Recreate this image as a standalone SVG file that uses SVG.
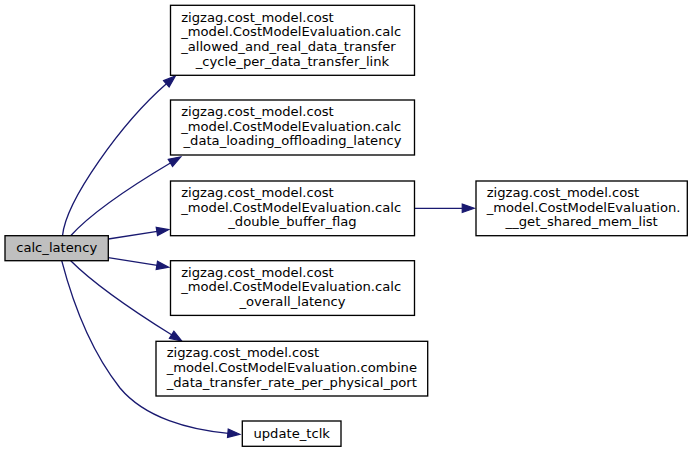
<svg xmlns="http://www.w3.org/2000/svg" width="697" height="453" viewBox="0 0 697 453">
<style>
.box{fill:#ffffff;stroke:#000000;stroke-width:1.33}
.root{fill:#bfbfbf;stroke:#000000;stroke-width:1.33}
text{font-family:"DejaVu Sans","Liberation Sans",sans-serif;font-size:13.15px;fill:#000000}
.c{text-anchor:middle}
.edge{fill:none;stroke:#191970;stroke-width:1.33}
</style>
<defs>
<marker id="arr" markerUnits="userSpaceOnUse" markerWidth="16" markerHeight="12" refX="0.5" refY="5.67" orient="auto" viewBox="-1 -1 16 13.33">
<path d="M0,1 L13.33,5.67 L0,10.33 z" fill="#191970" stroke="#191970" stroke-width="1.33"/>
</marker>
</defs>
<rect width="697" height="453" fill="#ffffff"/>
<g id="edges">
<path class="edge" marker-end="url(#arr)" d="M62.5,235.7 C66,200 122,122.5 166.7,83.5"/>
<path class="edge" marker-end="url(#arr)" d="M70.7,235.7 C92,212 130.8,186.4 170.8,162.7"/>
<path class="edge" marker-end="url(#arr)" d="M108.3,239 L157.3,231.4"/>
<path class="edge" marker-end="url(#arr)" d="M108.3,257.7 L157.3,265.4"/>
<path class="edge" marker-end="url(#arr)" d="M70.7,260.7 C95,285 135,312 172,335"/>
<path class="edge" marker-end="url(#arr)" d="M61.7,260.7 C72,300 90,350 120,388 C145,418 190,430 228.3,433.3"/>
<path class="edge" marker-end="url(#arr)" d="M414.5,208.3 L462.7,208.3"/>
</g>
<g id="calc_latency">
<rect class="root" x="5" y="235.7" width="103.3" height="25"/>
<text class="c" x="56.7" y="252">calc_latency</text>
</g>
<g id="n_allowed">
<rect class="box" x="170.5" y="5.3" width="244" height="70"/>
<text x="181.2" y="21.5">zigzag.cost_model.cost</text>
<text x="181.2" y="36.2">_model.CostModelEvaluation.calc</text>
<text x="181.2" y="50.8">_allowed_and_real_data_transfer</text>
<text class="c" x="292.5" y="65.5">_cycle_per_data_transfer_link</text>
</g>
<g id="n_loading">
<rect class="box" x="170.5" y="100" width="244" height="55"/>
<text x="181.2" y="116">zigzag.cost_model.cost</text>
<text x="181.2" y="130.7">_model.CostModelEvaluation.calc</text>
<text class="c" x="292.5" y="145.3">_data_loading_offloading_latency</text>
</g>
<g id="n_double">
<rect class="box" x="170.5" y="181" width="244" height="54.7"/>
<text x="181.2" y="196.8">zigzag.cost_model.cost</text>
<text x="181.2" y="211.5">_model.CostModelEvaluation.calc</text>
<text class="c" x="292.5" y="226.1">_double_buffer_flag</text>
</g>
<g id="n_overall">
<rect class="box" x="170.5" y="260.7" width="244" height="54.7"/>
<text x="181.2" y="276.7">zigzag.cost_model.cost</text>
<text x="181.2" y="291.3">_model.CostModelEvaluation.calc</text>
<text class="c" x="292.5" y="306">_overall_latency</text>
</g>
<g id="n_combine">
<rect class="box" x="156" y="341.3" width="271.7" height="54.7"/>
<text x="166.7" y="357.2">zigzag.cost_model.cost</text>
<text x="166.7" y="371.8">_model.CostModelEvaluation.combine</text>
<text class="c" x="291.8" y="386.5">_data_transfer_rate_per_physical_port</text>
</g>
<g id="n_update_tclk">
<rect class="box" x="242.3" y="421" width="98.7" height="25.3"/>
<text class="c" x="291.7" y="437.5">update_tclk</text>
</g>
<g id="n_shared_mem">
<rect class="box" x="476" y="181" width="211.3" height="54.7"/>
<text x="486.7" y="196.8">zigzag.cost_model.cost</text>
<text x="486.7" y="211.5">_model.CostModelEvaluation.</text>
<text class="c" x="581.7" y="226.1">__get_shared_mem_list</text>
</g>
</svg>
